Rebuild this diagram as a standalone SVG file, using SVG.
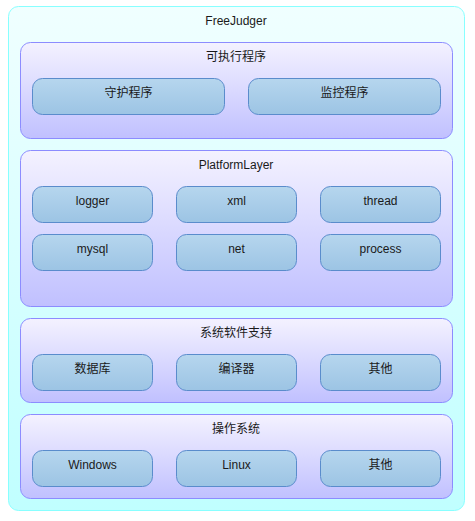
<svg xmlns="http://www.w3.org/2000/svg" width="475" height="521" viewBox="0 0 475 521">
<defs>
<linearGradient id="gOuter" x1="0" y1="0" x2="0" y2="1"><stop offset="0" stop-color="#f0ffff"/><stop offset="1" stop-color="#c0ffff"/></linearGradient>
<linearGradient id="gLayer" x1="0" y1="0" x2="0" y2="1"><stop offset="0" stop-color="#f4f2ff"/><stop offset="1" stop-color="#c0c0ff"/></linearGradient>
<linearGradient id="gBox" x1="0" y1="0" x2="0" y2="1"><stop offset="0" stop-color="#b6d6ee"/><stop offset="1" stop-color="#9cc4e4"/></linearGradient>
<style>
.outer{fill:url(#gOuter);stroke:#88ffff;stroke-width:1}
.layer{fill:url(#gLayer);stroke:#8c8cff;stroke-width:1}
.box{fill:url(#gBox);stroke:#5a8ccc;stroke-width:1}
text{font-family:"Liberation Sans","Noto Sans CJK SC",sans-serif;font-size:12px;fill:#1a1a1a;text-anchor:middle}
</style>
</defs>
<g id="outer"><rect class="outer" x="8.5" y="6.5" width="456" height="504" rx="10"/><text x="236" y="25">FreeJudger</text></g>
<g id="layer1"><rect class="layer" x="20.5" y="42.5" width="432" height="96" rx="10"/><text x="236" y="61">可执行程序</text></g>
<g id="n-shouhu"><rect class="box" x="32.5" y="78.5" width="192" height="36" rx="10"/><text x="128.5" y="97">守护程序</text></g>
<g id="n-jiankong"><rect class="box" x="248.5" y="78.5" width="192" height="36" rx="10"/><text x="344.5" y="97">监控程序</text></g>
<g id="layer2"><rect class="layer" x="20.5" y="150.5" width="432" height="156" rx="10"/><text x="236" y="169">PlatformLayer</text></g>
<g id="n-logger"><rect class="box" x="32.5" y="186.5" width="120" height="36" rx="10"/><text x="92.5" y="205">logger</text></g>
<g id="n-xml"><rect class="box" x="176.5" y="186.5" width="120" height="36" rx="10"/><text x="236.5" y="205">xml</text></g>
<g id="n-thread"><rect class="box" x="320.5" y="186.5" width="120" height="36" rx="10"/><text x="380.5" y="205">thread</text></g>
<g id="n-mysql"><rect class="box" x="32.5" y="234.5" width="120" height="36" rx="10"/><text x="92.5" y="253">mysql</text></g>
<g id="n-net"><rect class="box" x="176.5" y="234.5" width="120" height="36" rx="10"/><text x="236.5" y="253">net</text></g>
<g id="n-process"><rect class="box" x="320.5" y="234.5" width="120" height="36" rx="10"/><text x="380.5" y="253">process</text></g>
<g id="layer3"><rect class="layer" x="20.5" y="318.5" width="432" height="84" rx="10"/><text x="236" y="337">系统软件支持</text></g>
<g id="n-db"><rect class="box" x="32.5" y="354.5" width="120" height="36" rx="10"/><text x="92.5" y="373">数据库</text></g>
<g id="n-compiler"><rect class="box" x="176.5" y="354.5" width="120" height="36" rx="10"/><text x="236.5" y="373">编译器</text></g>
<g id="n-other1"><rect class="box" x="320.5" y="354.5" width="120" height="36" rx="10"/><text x="380.5" y="373">其他</text></g>
<g id="layer4"><rect class="layer" x="20.5" y="414.5" width="432" height="84" rx="10"/><text x="236" y="433">操作系统</text></g>
<g id="n-windows"><rect class="box" x="32.5" y="450.5" width="120" height="36" rx="10"/><text x="92.5" y="469">Windows</text></g>
<g id="n-linux"><rect class="box" x="176.5" y="450.5" width="120" height="36" rx="10"/><text x="236.5" y="469">Linux</text></g>
<g id="n-other2"><rect class="box" x="320.5" y="450.5" width="120" height="36" rx="10"/><text x="380.5" y="469">其他</text></g>
<g id="connectors"/>
</svg>
